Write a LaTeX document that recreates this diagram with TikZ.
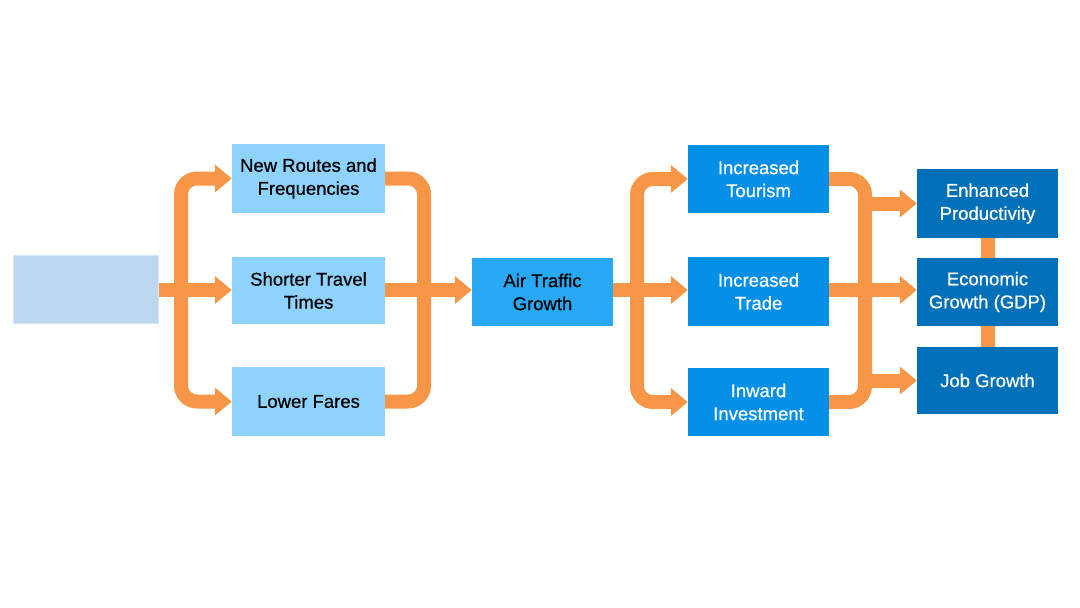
\documentclass[tikz,border=0pt]{standalone}
\usepackage{fontspec}
\setmainfont[FakeBold=0.6,BoldFont={Liberation Sans},BoldFeatures={FakeBold=0.6}]{Liberation Sans}
\usetikzlibrary{arrows.meta}
\definecolor{orng}{HTML}{F79646}
\definecolor{leftc}{HTML}{BDD7EE}
\definecolor{colA}{HTML}{8ED2FE}
\definecolor{colB}{HTML}{27A9F6}
\definecolor{colC}{HTML}{058FE6}
\definecolor{colD}{HTML}{0070B8}
\tikzset{
  box/.style={inner sep=0pt, align=center, minimum width=#1,
    font=\bfseries\fontsize{18.5}{23}\selectfont},
  flowline/.style={draw=orng, line width=14pt, rounded corners=16pt},
  flow/.style={flowline, -{Triangle[length=17pt,width=27pt]}},
}
\begin{document}
\begin{tikzpicture}[x=1pt,y=-1pt]
\useasboundingbox (0,0) rectangle (1080,608);
% nodes
\node[box=145pt, minimum height=68pt, fill=leftc, draw=leftc!60!white, line width=1pt] (L) at (85.5,289) {};
\node[box=153pt, minimum height=69pt, fill=colA] (b1) at (308.5,178.5) {New Routes and\\Frequencies};
\node[box=153pt, minimum height=67pt, fill=colA] (b2) at (308.5,290.5) {Shorter Travel\\Times};
\node[box=153pt, minimum height=69pt, fill=colA] (b3) at (308.5,401.5) {Lower Fares};
\node[box=141pt, minimum height=68pt, fill=colB] (air) at (542.5,292) {Air Traffic\\Growth};
\node[box=141pt, minimum height=68pt, fill=colC, text=white] (c1) at (758.5,179) {Increased\\Tourism};
\node[box=141pt, minimum height=69pt, fill=colC, text=white] (c2) at (758.5,291.5) {Increased\\Trade};
\node[box=141pt, minimum height=68pt, fill=colC, text=white] (c3) at (758.5,402) {Inward\\Investment};
\node[box=141pt, minimum height=69pt, fill=colD, text=white] (d1) at (987.5,203.5) {Enhanced\\Productivity};
\node[box=141pt, minimum height=68pt, fill=colD, text=white] (d2) at (987.5,292) {Economic\\Growth (GDP)};
\node[box=141pt, minimum height=67pt, fill=colD, text=white] (d3) at (987.5,380.5) {Job Growth};
% junctions
\coordinate (s1) at (181,290);
\coordinate (j1) at (424,290);
\coordinate (s2) at (637,290);
\coordinate (j2) at (865,290);
\coordinate (t1) at (865,203.5);
\coordinate (t3) at (865,380.5);
% connectors
\draw[flow] (L.east |- s1) -- (b2.west |- s1);
\draw[flow] (s1) |- (b1.west);
\draw[flow] (s1) |- (b3.west);
\draw[flowline] (b1.east) -| (j1) |- (b3.east);
\draw[flow] (b2.east |- j1) -- (air.west |- j1);
\draw[flow] (air.east |- s2) -- (c2.west |- s2);
\draw[flow] (s2) |- (c1.west);
\draw[flow] (s2) |- (c3.west);
\draw[flowline] (c1.east) -| (j2) |- (c3.east);
\draw[flow] (c2.east |- j2) -- (d2.west |- j2);
\draw[flow] (t1) -- (d1.west);
\draw[flow] (t3) -- (d3.west);
\draw[flowline] (d1.south) -- (d2.north);
\draw[flowline] (d2.south) -- (d3.north);
\end{tikzpicture}
\end{document}
